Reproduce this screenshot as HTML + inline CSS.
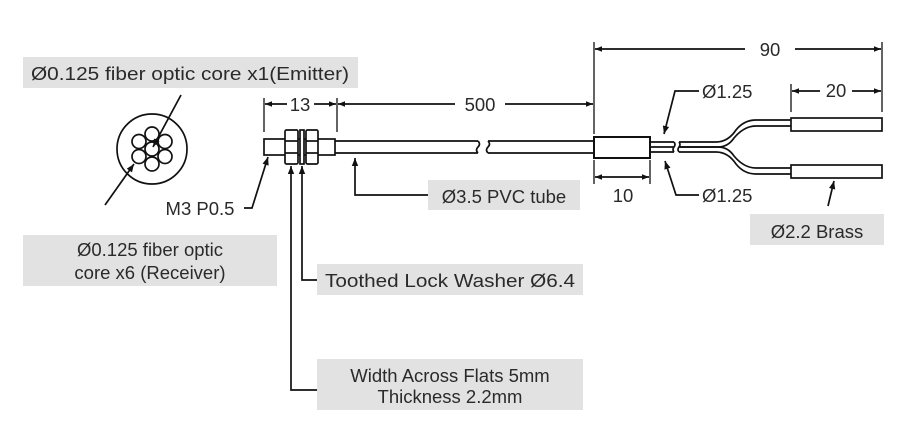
<!DOCTYPE html>
<html><head><meta charset="utf-8"><style>
html,body{margin:0;padding:0;background:#fff;}
svg{display:block;}
text{font-family:"Liberation Sans",sans-serif;font-size:18.5px;fill:#2a2a2a;}
</style></head><body>
<svg width="899" height="435" viewBox="0 0 899 435" xmlns="http://www.w3.org/2000/svg">
<defs>
<marker id="a" viewBox="0 0 10 10" refX="10" refY="5" markerWidth="13" markerHeight="8" orient="auto-start-reverse" markerUnits="userSpaceOnUse"><path d="M0,1 L10,5 L0,9 Z" fill="#111"/></marker>
<marker id="b" viewBox="0 0 10 10" refX="10" refY="5" markerWidth="18" markerHeight="7" orient="auto-start-reverse" markerUnits="userSpaceOnUse"><path d="M0,1 L10,5 L0,9 Z" fill="#111"/></marker>
</defs>
<g fill="#e2e2e2">
<rect x="23" y="57" width="335" height="31"/>
<rect x="23" y="235" width="254" height="51"/>
<rect x="428" y="180" width="152" height="30"/>
<rect x="317" y="264" width="266" height="31"/>
<rect x="317" y="359" width="266" height="51"/>
<rect x="750" y="214" width="134" height="31"/>
</g>
<text x="190" y="80" text-anchor="middle" font-size="19" textLength="318" lengthAdjust="spacingAndGlyphs">Ø0.125 fiber optic core x1(Emitter)</text>
<text x="150" y="256" text-anchor="middle">Ø0.125 fiber optic</text>
<text x="150" y="279" text-anchor="middle">core x6 (Receiver)</text>
<text x="504" y="203" text-anchor="middle">Ø3.5 PVC tube</text>
<text x="450" y="287" text-anchor="middle" textLength="250" lengthAdjust="spacingAndGlyphs">Toothed Lock Washer Ø6.4</text>
<text x="450" y="382" text-anchor="middle">Width Across Flats 5mm</text>
<text x="450" y="403" text-anchor="middle">Thickness 2.2mm</text>
<text x="817" y="238" text-anchor="middle">Ø2.2 Brass</text>
<text x="200" y="215" text-anchor="middle">M3 P0.5</text>
<text x="300" y="111" text-anchor="middle">13</text>
<text x="480" y="111" text-anchor="middle">500</text>
<text x="770" y="56" text-anchor="middle">90</text>
<text x="836" y="97" text-anchor="middle">20</text>
<text x="623" y="202" text-anchor="middle">10</text>
<text x="702" y="98">Ø1.25</text>
<text x="702" y="202">Ø1.25</text>

<g fill="none" stroke="#111" stroke-width="1.7">
<circle cx="152" cy="149" r="35"/>
<circle cx="152" cy="149" r="7"/>
<circle cx="152" cy="134" r="7"/><circle cx="152" cy="164" r="7"/>
<circle cx="139" cy="141.5" r="7"/><circle cx="165" cy="141.5" r="7"/>
<circle cx="139" cy="156.5" r="7"/><circle cx="165" cy="156.5" r="7"/>
<line x1="181" y1="95" x2="153" y2="147" marker-end="url(#a)"/>
<line x1="105" y1="205" x2="134" y2="164" marker-end="url(#a)"/>
<rect x="264" y="139" width="71" height="16"/>
<rect x="285" y="130" width="13" height="34" rx="1.5" fill="#fff"/>
<line x1="285" y1="141" x2="298" y2="141"/><line x1="285" y1="153" x2="298" y2="153"/>
<rect x="300" y="130" width="4" height="34" fill="#fff"/>
<rect x="306" y="130" width="12" height="34" rx="1.5" fill="#fff"/>
<line x1="306" y1="141" x2="318" y2="141"/><line x1="306" y1="153" x2="318" y2="153"/>
<path d="M335,141 H478 M335,153 H478 M488,141 H594 M488,153 H594"/>
<path d="M478,141 q3,3 0,6 q-3,3 0,6 M488,141 q3,3 0,6 q-3,3 0,6"/>
<rect x="594" y="137" width="56" height="21" stroke-width="2"/>
<path d="M650,142 H674 M650,152 H674 M650,147 H674" />
<path d="M674,142 q2,2.5 0,5 q-2,2.5 0,5 M679,142 q2,2.5 0,5 q-2,2.5 0,5"/>
<path d="M679,142 H716 Q728,142 736,130 Q744,120 756,120 H791"/>
<path d="M679,152 H716 Q728,152 736,164 Q744,174 756,174 H791"/>
<path d="M679,147 H718 Q728,147 734,138 Q744,126 756,126 H791"/>
<path d="M679,147 H718 Q728,147 734,156 Q744,168 756,168 H791"/>
<rect x="791" y="118" width="91" height="13"/>
<rect x="791" y="165" width="91" height="13"/>
<g stroke-width="1.3">
<line x1="264" y1="98" x2="264" y2="132"/><line x1="337" y1="98" x2="337" y2="132"/>
<line x1="594" y1="42" x2="594" y2="134"/><line x1="882" y1="42" x2="882" y2="112"/>
<line x1="791" y1="84" x2="791" y2="112"/>
<line x1="594" y1="160" x2="594" y2="184"/><line x1="650" y1="160" x2="650" y2="184"/>
</g>
<line x1="265" y1="104" x2="287" y2="104" marker-start="url(#b)"/>
<line x1="314" y1="104" x2="336" y2="104" marker-end="url(#b)"/>
<line x1="338" y1="104" x2="455" y2="104" marker-start="url(#b)"/>
<line x1="505" y1="104" x2="593" y2="104" marker-end="url(#b)"/>
<line x1="595" y1="49" x2="745" y2="49" marker-start="url(#b)"/>
<line x1="795" y1="49" x2="881" y2="49" marker-end="url(#b)"/>
<line x1="792" y1="91" x2="820" y2="91" marker-start="url(#b)"/>
<line x1="852" y1="91" x2="881" y2="91" marker-end="url(#b)"/>
<line x1="595" y1="177" x2="649" y2="177" marker-start="url(#b)" marker-end="url(#b)"/>
<polyline points="699,91 675,91 664,134" marker-end="url(#a)"/>
<polyline points="699,195 676,195 665,161" marker-end="url(#a)"/>
<line x1="828" y1="206" x2="834" y2="181" marker-end="url(#a)"/>
<polyline points="244,208 252,208 268,157" marker-end="url(#a)"/>
<polyline points="428,195 355,195 355,158" marker-end="url(#a)"/>
<polyline points="317,280 302,280 302,166" marker-end="url(#a)"/>
<polyline points="317,390 291,390 291,166" marker-end="url(#a)"/>
</g>
</svg>
</body></html>
